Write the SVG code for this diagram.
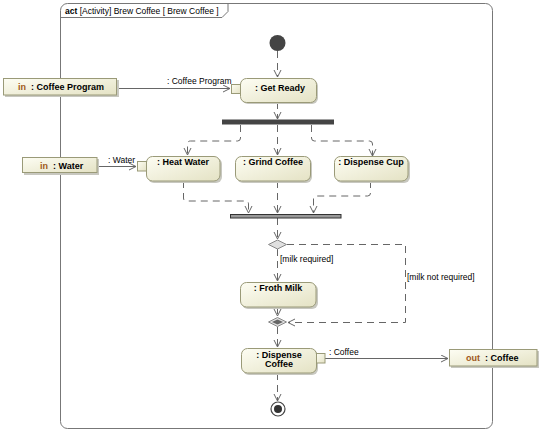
<svg xmlns="http://www.w3.org/2000/svg" width="540" height="434" viewBox="0 0 540 434">
<style>
text{font-family:"Liberation Sans",Arial,sans-serif;fill:#000}
.nb{font-size:9px;font-weight:bold;text-anchor:middle}
.lb{font-size:8.5px}
.act{fill:url(#g);stroke:#9a9a78;stroke-width:1}
.sh{fill:#c8c8c0}
.cf{fill:none;stroke:#666;stroke-width:1;stroke-dasharray:7,5}
.of{fill:none;stroke:#666;stroke-width:1}
.kw{fill:#a0581a;font-weight:bold}
</style>
<defs>
<linearGradient id="g" x1="0" y1="0" x2="1" y2="1">
<stop offset="0" stop-color="#fdfdf3"/>
<stop offset="1" stop-color="#e4e2c4"/>
</linearGradient>
<marker id="a" markerWidth="10" markerHeight="10" refX="8" refY="4" orient="auto" markerUnits="userSpaceOnUse">
<path d="M1,0.5 L8,4 L1,7.5" fill="none" stroke="#666" stroke-width="1"/>
</marker>
</defs>
<g id="frame">
<rect x="60.5" y="3.5" width="432" height="425" rx="7" fill="#fff" stroke="#777"/>
<path d="M60.5,17.5 H222 L228,11.5 V3.5" fill="none" stroke="#777"/>
<text x="65" y="13.5" font-size="8.5px"><tspan font-weight="bold">act</tspan> [Activity] Brew Coffee [ Brew Coffee ]</text>
</g>
<g id="connectors">
<path class="cf" d="M277.5,51 V77" marker-end="url(#a)"/>
<path class="cf" d="M277.5,102 V119" marker-end="url(#a)"/>
<path class="cf" d="M240.5,125 V138 Q240.5,141 237.5,141 H190.5 Q187.5,141 187.5,144 V155" marker-end="url(#a)"/>
<path class="cf" d="M277.5,125 V155" marker-end="url(#a)"/>
<path class="cf" d="M311.5,125 V138 Q311.5,141 314.5,141 H369.5 Q372.5,141 372.5,144 V156" marker-end="url(#a)"/>
<path class="cf" d="M183.5,181 V198 Q183.5,201 186.5,201 H245.5 Q248.5,201 248.5,204 V213" marker-end="url(#a)"/>
<path class="cf" d="M277.5,181 V213" marker-end="url(#a)"/>
<path class="cf" d="M370.5,181 V193 Q370.5,196 367.5,196 H316.5 Q313.5,196 313.5,199 V213" marker-end="url(#a)"/>
<path class="cf" d="M277.5,218 V239" marker-end="url(#a)"/>
<path class="cf" d="M277.5,249 V281" marker-end="url(#a)"/>
<path class="cf" d="M287,244.5 H405.5 V322.5 H288" marker-end="url(#a)"/>
<path class="cf" d="M277.5,307 V316" marker-end="url(#a)"/>
<path class="cf" d="M277.5,327 V347" marker-end="url(#a)"/>
<path class="cf" d="M277.5,373 V401" marker-end="url(#a)"/>
<path class="of" d="M117,88.5 H230" marker-end="url(#a)"/>
<path class="of" d="M97,166.5 H136" marker-end="url(#a)"/>
<path class="of" d="M325,358.5 H448" marker-end="url(#a)"/>
<text class="lb" x="167" y="84">: Coffee Program</text>
<text class="lb" x="108" y="163">: Water</text>
<text class="lb" x="280" y="262">[milk required]</text>
<text class="lb" x="407" y="280">[milk not required]</text>
<text class="lb" x="329" y="355">: Coffee</text>
</g>
<g id="initial"><circle cx="277.5" cy="43" r="8" fill="#444"/></g>
<g id="in-coffee-program">
<rect class="sh" x="5" y="80" width="114" height="17"/>
<rect class="act" x="3.5" y="78.5" width="113" height="16.5"/>
<text x="18" y="90" font-size="9px" font-weight="bold"><tspan class="kw">in</tspan><tspan dx="5">: Coffee Program</tspan></text>
</g>
<g id="get-ready">
<rect class="sh" x="242" y="80" width="76" height="24" rx="6"/>
<rect class="act" x="240.5" y="78.5" width="76" height="24" rx="6"/>
<rect class="act" x="231.5" y="84.5" width="9" height="9"/>
<text class="nb" x="280" y="91">: Get Ready</text>
</g>
<g id="fork"><rect x="222" y="119.5" width="112" height="5" fill="#444"/></g>
<g id="in-water">
<rect class="sh" x="24" y="159" width="75" height="16"/>
<rect class="act" x="22.5" y="157.5" width="74.5" height="15"/>
<text x="40" y="168.5" font-size="9px" font-weight="bold"><tspan class="kw">in</tspan><tspan dx="5">: Water</tspan></text>
</g>
<g id="heat-water">
<rect class="sh" x="148" y="158" width="74" height="25" rx="6"/>
<rect class="act" x="146.5" y="156.5" width="73.5" height="24.5" rx="6"/>
<rect class="act" x="137.5" y="161.5" width="9" height="9.5"/>
<text class="nb" x="183" y="165">: Heat Water</text>
</g>
<g id="grind-coffee">
<rect class="sh" x="237" y="158" width="75" height="25" rx="6"/>
<rect class="act" x="235.5" y="156.5" width="75" height="24.5" rx="6"/>
<text class="nb" x="273" y="165">: Grind Coffee</text>
</g>
<g id="dispense-cup">
<rect class="sh" x="336" y="158" width="74" height="25" rx="6"/>
<rect class="act" x="334.5" y="156.5" width="73.5" height="24.5" rx="6"/>
<text class="nb" x="371" y="165">: Dispense Cup</text>
</g>
<g id="join"><rect x="230.5" y="214.5" width="110.5" height="3.5" fill="#999" stroke="#333"/></g>
<g id="decision"><path d="M268.5,244.5 L277.5,240 L286.5,244.5 L277.5,249 Z" fill="#e0e0e0" stroke="#888"/></g>
<g id="froth-milk">
<rect class="sh" x="242" y="284" width="76" height="25" rx="6"/>
<rect class="act" x="240.5" y="282.5" width="75.5" height="24.5" rx="6"/>
<text class="nb" x="278" y="291">: Froth Milk</text>
</g>
<g id="merge">
<path d="M268.5,322 L277.5,317.5 L286.5,322 L277.5,326.5 Z" fill="#e0e0e0" stroke="#888"/>
<path d="M272,322 L277.5,319.5 L283,322 L277.5,324.5 Z" fill="#666"/>
</g>
<g id="dispense-coffee">
<rect class="sh" x="243" y="350" width="75" height="25" rx="6"/>
<rect class="act" x="241.5" y="348.5" width="75" height="24.5" rx="6"/>
<rect class="act" x="316.5" y="353.5" width="8.5" height="9.5"/>
<text class="nb" x="279" y="358">: Dispense</text>
<text class="nb" x="279" y="367">Coffee</text>
</g>
<g id="out-coffee">
<rect class="sh" x="451" y="351" width="88" height="17"/>
<rect class="act" x="449.5" y="349.5" width="87.5" height="16.5"/>
<text x="466" y="361" font-size="9px" font-weight="bold"><tspan class="kw">out</tspan><tspan dx="5">: Coffee</tspan></text>
</g>
<g id="final">
<circle cx="278" cy="409" r="7" fill="#fff" stroke="#444" stroke-width="1.2"/>
<circle cx="278" cy="409" r="4" fill="#333"/>
</g>
</svg>
